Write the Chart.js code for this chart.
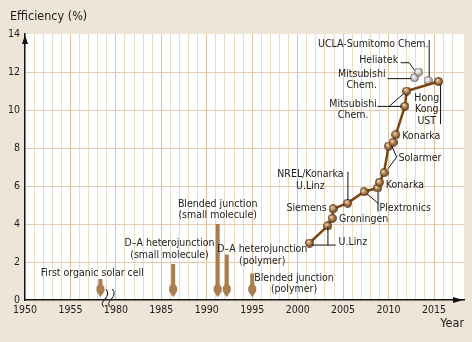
<!DOCTYPE html>
<html>
<head>
<meta charset="utf-8">
<script src="https://cdn.jsdelivr.net/npm/chart.js@4.4.0/dist/chart.umd.min.js"></script>
<style>
    html, body { margin: 0; padding: 0; background: #eee4d7; }
    #wrap { width: 472px; height: 342px; position: relative; }
</style>
</head>
<body>
<div id="wrap"><canvas id="effChart"></canvas></div>
<script>
// Record efficiencies (brown line)
const recordYears = [2001.3, 2003.3, 2003.8, 2003.9, 2005.5, 2007.3, 2008.8, 2009.0, 2009.5, 2010.0, 2010.5, 2010.8, 2011.8, 2012.0, 2015.5];
const recordEff = [3.0, 3.9, 4.3, 4.8, 5.1, 5.7, 5.9, 6.2, 6.7, 8.1, 8.3, 8.7, 10.2, 11.0, 11.5];

// Other results (grey balls)
const otherYears = [2012.85, 2013.3, 2014.35];
const otherEff = [11.7, 12.0, 11.55];

// Milestones drawn as arrows
const milestoneYears = [1958.3, 1986.3, 1991.2, 1992.2, 1995.0];
const milestoneTops = [1.1, 1.9, 4.0, 2.4, 1.4];
const milestoneBase = 0.15;

// Tick labels - axis jumps from 1955 to 1980
const yearTicks = [1950, 1955, 1980, 1985, 1990, 1995, 2000, 2005, 2010, 2015];
const effTicks = [0, 2, 4, 6, 8, 10, 12, 14];

const FONT = "'DejaVu Sans Condensed', 'DejaVu Sans', sans-serif";
const TEXT = '#1c1c1c';

// year -> position on the broken axis
function toV(year) {
    return year < 1970 ? year - 1950 : year - 1970;
}

const notes = [
    { text: ['First organic solar cell'], year: 1957.4, y: 1.4, align: 'center' },
    { text: ['D\u2013A heterojunction', '(small molecule)'], year: 1985.9, y: 2.96, align: 'center' },
    { text: ['Blended junction', '(small molecule)'], year: 1991.2, y: 5.04, align: 'center' },
    { text: ['D\u2013A heterojunction', '(polymer)'], year: 1996.1, y: 2.65, align: 'center' },
    { text: ['Blended junction', '(polymer)'], year: 1999.6, y: 1.16, align: 'center' },
    { text: ['U.Linz'], year: 2004.5, y: 3.05, align: 'left' },
    { text: ['Groningen'], year: 2004.55, y: 4.25, align: 'left' },
    { text: ['Siemens'], year: 2003.2, y: 4.83, align: 'right' },
    { text: ['NREL/Konarka', 'U.Linz'], year: 2001.4, y: 6.61, align: 'center' },
    { text: ['Plextronics'], year: 2009.0, y: 4.83, align: 'left' },
    { text: ['Konarka'], year: 2009.7, y: 6.05, align: 'left' },
    { text: ['Solarmer'], year: 2011.1, y: 7.44, align: 'left' },
    { text: ['Konarka'], year: 2011.5, y: 8.63, align: 'left' },
    { text: ['Mitsubishi', 'Chem.'], year: 2006.1, y: 10.32, align: 'center' },
    { text: ['Hong', 'Kong', 'UST'], year: 2014.2, y: 10.62, align: 'center' },
    { text: ['Mitsubishi', 'Chem.'], year: 2007.05, y: 11.9, align: 'center' },
    { text: ['Heliatek'], year: 2011.05, y: 12.63, align: 'right' },
    { text: ['UCLA-Sumitomo Chem.'], year: 2014.4, y: 13.46, align: 'right' }
];

const leaders = [
    [[2001.53, 2.89], [2004.18, 2.89]],
    [[2003.33, 3.89], [2003.33, 2.89]],
    [[2005.53, 6.75], [2005.53, 5.26]],
    [[2008.84, 5.7], [2008.84, 4.65]],
    [[2007.63, 5.58], [2008.84, 5.09]],
    [[2010.35, 8.1], [2010.9, 7.53], [2009.91, 6.89]],
    [[2008.77, 10.19], [2011.45, 10.19]],
    [[2010.06, 10.19], [2011.73, 10.89]],
    [[2015.72, 11.32], [2015.72, 9.26]],
    [[2009.88, 11.65], [2012.52, 11.65]],
    [[2011.34, 12.49], [2012.26, 12.49], [2012.85, 12.1]],
    [[2014.47, 13.68], [2014.47, 11.75]]
];

const breakMarks = [8.8, 9.5];

function makeBall(light, mid, dark, edge) {
    const c = document.createElement('canvas');
    c.width = 9;
    c.height = 9;
    const g = c.getContext('2d');
    const grad = g.createRadialGradient(3.2, 3.0, 0.3, 4.5, 4.5, 5);
    grad.addColorStop(0, light);
    grad.addColorStop(0.45, mid);
    grad.addColorStop(1, dark);
    g.beginPath();
    g.arc(4.5, 4.5, 4, 0, Math.PI * 2);
    g.fillStyle = grad;
    g.fill();
    g.lineWidth = 0.8;
    g.strokeStyle = edge;
    g.stroke();
    return c;
}

const brownBall = makeBall('#f4dfbd', '#b0804c', '#5e3614', '#4a2a10');
const greyBall = makeBall('#ffffff', '#cfcfcf', '#808080', '#666666');

const decorPlugin = {
    id: 'decor',
    beforeDraw(chart) {
        const { ctx, chartArea: a } = chart;
        ctx.save();
        ctx.fillStyle = '#eee4d7';
        ctx.fillRect(0, 0, chart.width, chart.height);
        ctx.fillStyle = '#ffffff';
        ctx.fillRect(a.left, a.top, a.right - a.left, a.bottom - a.top);
        ctx.restore();
    },
    afterDatasetsDraw(chart) {
        const { ctx } = chart;
        const xs = chart.scales.x, ys = chart.scales.y;
        ctx.save();
        ctx.fillStyle = '#a97d50';
        milestoneYears.forEach((yr, i) => {
            const x = xs.getPixelForValue(toV(yr));
            const top = ys.getPixelForValue(milestoneTops[i]);
            const tip = ys.getPixelForValue(milestoneBase);
            ctx.beginPath();
            ctx.moveTo(x - 2, top);
            ctx.lineTo(x + 2, top);
            ctx.lineTo(x + 2, tip - 13);
            ctx.lineTo(x + 4, tip - 10);
            ctx.lineTo(x + 4, tip - 6);
            ctx.lineTo(x, tip);
            ctx.lineTo(x - 4, tip - 6);
            ctx.lineTo(x - 4, tip - 10);
            ctx.lineTo(x - 2, tip - 13);
            ctx.closePath();
            ctx.fill();
        });
        ctx.restore();
    },
    afterDraw(chart) {
        const { ctx, chartArea: a } = chart;
        const xs = chart.scales.x, ys = chart.scales.y;
        const px = yr => xs.getPixelForValue(toV(yr));
        const py = v => ys.getPixelForValue(v);
        ctx.save();

        // axis arrow heads
        ctx.fillStyle = '#111';
        ctx.beginPath();
        ctx.moveTo(a.left, a.top + 1);
        ctx.lineTo(a.left + 3, a.top + 10);
        ctx.lineTo(a.left - 3, a.top + 10);
        ctx.closePath();
        ctx.fill();
        ctx.beginPath();
        ctx.moveTo(a.right - 1, a.bottom);
        ctx.lineTo(a.right - 11, a.bottom - 3);
        ctx.lineTo(a.right - 11, a.bottom + 3);
        ctx.closePath();
        ctx.fill();

        // axis break
        ctx.strokeStyle = '#111';
        ctx.lineWidth = 1;
        breakMarks.forEach(v => {
            const x = xs.getPixelForValue(v);
            const b = a.bottom;
            ctx.beginPath();
            ctx.moveTo(x + 1, b - 11);
            ctx.quadraticCurveTo(x + 5, b - 6, x, b - 1);
            ctx.quadraticCurveTo(x - 5, b + 4, x - 1, b + 7);
            ctx.stroke();
        });

        // leader lines
        ctx.lineWidth = 1;
        leaders.forEach(pts => {
            ctx.beginPath();
            pts.forEach(([yr, v], i) => {
                if (i === 0) ctx.moveTo(px(yr), py(v));
                else ctx.lineTo(px(yr), py(v));
            });
            ctx.stroke();
        });

        // annotations
        ctx.fillStyle = TEXT;
        ctx.font = '10.5px ' + FONT;
        ctx.textBaseline = 'middle';
        notes.forEach(n => {
            ctx.textAlign = n.align;
            n.text.forEach((line, i) => {
                ctx.fillText(line, px(n.year), py(n.y) + i * 11.5);
            });
        });

        // axis titles
        ctx.font = '12.5px ' + FONT;
        ctx.textAlign = 'left';
        ctx.fillText('Efficiency (%)', 10, 17);
        ctx.textAlign = 'right';
        ctx.fillText('Year', a.right, 324);
        ctx.restore();
    }
};

const ctx = document.getElementById('effChart').getContext('2d');
new Chart(ctx, {
    type: 'line',
    data: {
        datasets: [{
            data: recordYears.map((yr, i) => ({ x: toV(yr), y: recordEff[i] })),
            borderColor: '#7b4612',
            borderWidth: 2.5,
            tension: 0,
            pointStyle: brownBall,
            pointRadius: 4
        }, {
            data: otherYears.map((yr, i) => ({ x: toV(yr), y: otherEff[i] })),
            showLine: false,
            pointStyle: greyBall,
            pointRadius: 4
        }]
    },
    options: {
        responsive: true,
        maintainAspectRatio: false,
        animation: false,
        events: [],
        layout: { padding: { top: 34, right: 8, left: 0, bottom: 0 } },
        plugins: {
            legend: { display: false },
            tooltip: { enabled: false }
        },
        scales: {
            x: {
                type: 'linear',
                min: 0,
                max: 48.3,
                afterFit: s => { s.height = 42; },
                border: { color: '#111', width: 1.5 },
                grid: {
                    drawTicks: false,
                    lineWidth: 1,
                    color: c => {
                        const v = c.tick.value;
                        if (!Number.isInteger(v) || v === 0) return 'rgba(0,0,0,0)';
                        return v % 5 === 0 ? '#dcc2a0' : '#ecdbc7';
                    }
                },
                ticks: {
                    stepSize: 1,
                    autoSkip: false,
                    maxRotation: 0,
                    padding: 4,
                    color: TEXT,
                    font: { family: FONT, size: 10.5 },
                    callback: v => (Number.isInteger(v) && v % 5 === 0) ? String(yearTicks[v / 5]) : ''
                }
            },
            y: {
                min: 0,
                max: 14,
                afterFit: s => { s.width = 25; },
                border: { color: '#111', width: 1.5 },
                grid: {
                    drawTicks: false,
                    lineWidth: 1,
                    color: c => (c.tick.value === 0 || c.tick.value === 14) ? 'rgba(0,0,0,0)' : '#e4cbad'
                },
                afterBuildTicks: s => { s.ticks = effTicks.map(v => ({ value: v })); },
                ticks: {
                    padding: 5,
                    color: TEXT,
                    font: { family: FONT, size: 10.5 }
                }
            }
        }
    },
    plugins: [decorPlugin]
});
</script>
</body>
</html>
